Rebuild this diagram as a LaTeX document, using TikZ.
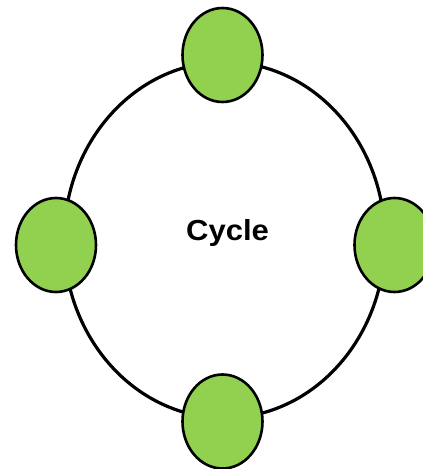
\documentclass[tikz,border=0pt]{standalone}
\usepackage{fontspec}
\setmainfont{Liberation Sans}
\definecolor{lgreen}{HTML}{92D050}
\begin{document}
\begin{tikzpicture}[x=1pt,y=-1pt,
  ring/.style={draw=black,line width=3.2pt},
  bubble/.style={draw=black,line width=2.6pt,fill=lgreen}]
\useasboundingbox (0,0) rectangle (423,469);
\draw[ring] (224.5,240) ellipse [x radius=160.5, y radius=178];
\node[font=\bfseries\fontsize{29}{33}\selectfont, anchor=base, xscale=1.07, inner sep=0pt] (c) at (227.5,240) {Cycle};
\draw[bubble] (222.5,55) ellipse [x radius=40, y radius=47];
\draw[bubble] (56,245) ellipse [x radius=40, y radius=47];
\draw[bubble] (394.5,245) ellipse [x radius=40, y radius=47];
\draw[bubble] (222.5,421.5) ellipse [x radius=40, y radius=47];
\end{tikzpicture}
\end{document}
